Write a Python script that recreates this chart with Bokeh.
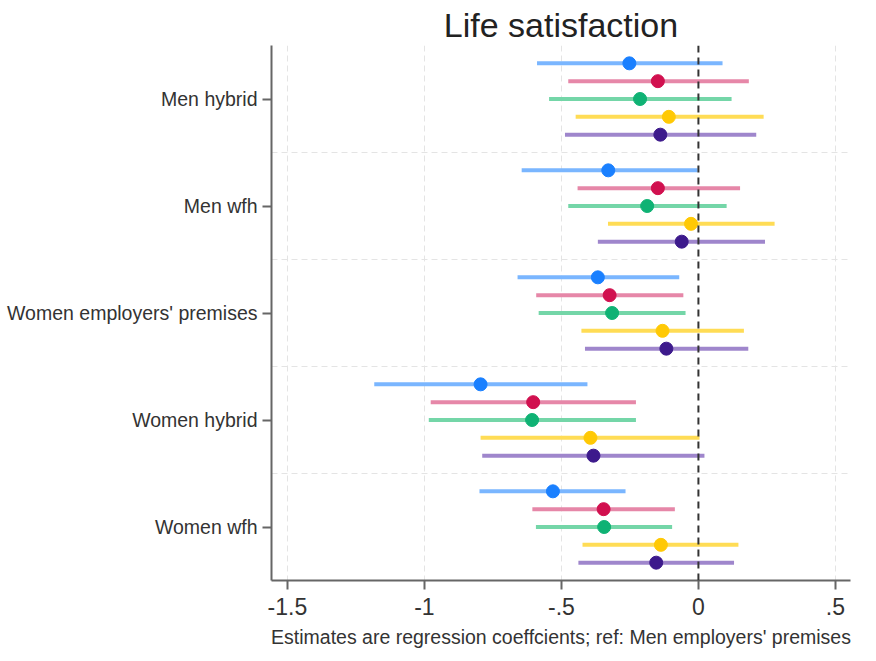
from bokeh.plotting import figure
from bokeh.models import Range1d, FixedTicker, Span, ColumnDataSource, Title
from bokeh.embed import file_html
from bokeh.resources import INLINE

groups = ["Men hybrid", "Men wfh", "Women employers' premises", "Women hybrid", "Women wfh"]
x_ticks = [-1.5, -1.0, -0.5, 0.0, 0.5]
x_tick_labels = ["-1.5", "-1", "-.5", "0", ".5"]

blue_est = [-0.252, -0.329, -0.367, -0.795, -0.531]
blue_lo = [-0.589, -0.645, -0.660, -1.183, -0.799]
blue_hi = [0.088, -0.003, -0.070, -0.405, -0.266]
pink_est = [-0.148, -0.148, -0.324, -0.603, -0.346]
pink_lo = [-0.475, -0.441, -0.592, -0.977, -0.606]
pink_hi = [0.184, 0.152, -0.055, -0.228, -0.086]
green_est = [-0.213, -0.187, -0.315, -0.607, -0.344]
green_lo = [-0.545, -0.475, -0.583, -0.984, -0.593]
green_hi = [0.121, 0.103, -0.047, -0.228, -0.096]
yellow_est = [-0.108, -0.027, -0.131, -0.394, -0.137]
yellow_lo = [-0.448, -0.330, -0.427, -0.795, -0.423]
yellow_hi = [0.238, 0.278, 0.166, 0.004, 0.146]
purple_est = [-0.139, -0.061, -0.117, -0.383, -0.154]
purple_lo = [-0.487, -0.367, -0.414, -0.789, -0.438]
purple_hi = [0.211, 0.243, 0.182, 0.022, 0.130]

series = [
    (blue_est, blue_lo, blue_hi, "#1a80ff", "#7ab6ff"),
    (pink_est, pink_lo, pink_hi, "#d1104f", "#e687a8"),
    (green_est, green_lo, green_hi, "#0fb274", "#74d6a8"),
    (yellow_est, yellow_lo, yellow_hi, "#ffc905", "#ffdc55"),
    (purple_est, purple_lo, purple_hi, "#3d1a8c", "#9f86cc"),
]
offsets = [-2/6, -1/6, 0.0, 1/6, 2/6]

FONT = "Liberation Sans"

p = figure(frame_width=579, frame_height=535, output_backend="svg", toolbar_location=None,
           x_range=Range1d(-1.558, 0.555), y_range=Range1d(5.5, 0.5),
           min_border_left=271, min_border_right=26, min_border_top=45, min_border_bottom=80)
p.outline_line_color = None
p.background_fill_color = "white"

p.title = Title(text="Life satisfaction", align="center", text_font=FONT,
                text_font_size="34px", text_font_style="normal", text_color="#222222",
                standoff=4)

# grids
p.xgrid.ticker = FixedTicker(ticks=[-1.5, -1.0, -0.5, 0.5])
p.xgrid.grid_line_color = "#e4e4e4"
p.xgrid.grid_line_dash = "6 4"
p.xgrid.grid_line_width = 1
p.ygrid.ticker = FixedTicker(ticks=[1.5, 2.5, 3.5, 4.5])
p.ygrid.grid_line_color = "#e4e4e4"
p.ygrid.grid_line_dash = "6 4"
p.ygrid.grid_line_width = 1

# axes
p.xaxis.ticker = FixedTicker(ticks=x_ticks)
p.xaxis.major_label_overrides = {t: l for t, l in zip(x_ticks, x_tick_labels)}
p.xaxis.axis_label = "Estimates are regression coeffcients; ref: Men employers' premises"
p.xaxis.axis_label_text_font = FONT
p.xaxis.axis_label_text_font_style = "normal"
p.xaxis.axis_label_text_font_size = "19.5px"
p.xaxis.axis_label_text_color = "#333333"
p.xaxis.axis_label_standoff = 8
p.xaxis.major_label_text_font = FONT
p.xaxis.major_label_text_font_size = "23px"
p.xaxis.major_label_text_color = "#333333"
p.xaxis.major_label_standoff = 8
p.xaxis.minor_tick_line_color = None

p.yaxis.ticker = FixedTicker(ticks=[1, 2, 3, 4, 5])
p.yaxis.major_label_overrides = {i + 1: g for i, g in enumerate(groups)}
p.yaxis.major_label_text_font = FONT
p.yaxis.major_label_text_font_size = "19.5px"
p.yaxis.major_label_text_color = "#333333"
p.yaxis.major_label_standoff = 5
p.yaxis.minor_tick_line_color = None

for ax in (p.xaxis, p.yaxis):
    ax.axis_line_color = "#666666"
    ax.axis_line_width = 2
    ax.major_tick_line_color = "#666666"
    ax.major_tick_line_width = 2
    ax.major_tick_in = 0
    ax.major_tick_out = 9

# data
for k, (est, lo, hi, pc, lc) in enumerate(series):
    ys = [i + 1 + offsets[k] for i in range(len(groups))]
    src = ColumnDataSource(dict(y=ys, est=est, lo=lo, hi=hi))
    p.segment(x0="lo", x1="hi", y0="y", y1="y", source=src, line_color=lc, line_width=4)
    p.scatter(x="est", y="y", source=src, size=13, fill_color=pc, line_color=pc)

zero = Span(location=0, dimension="height", line_color="#333333", line_width=2, line_dash="7 5")
p.add_layout(zero)

open("out.html", "w").write(file_html(p, INLINE))
